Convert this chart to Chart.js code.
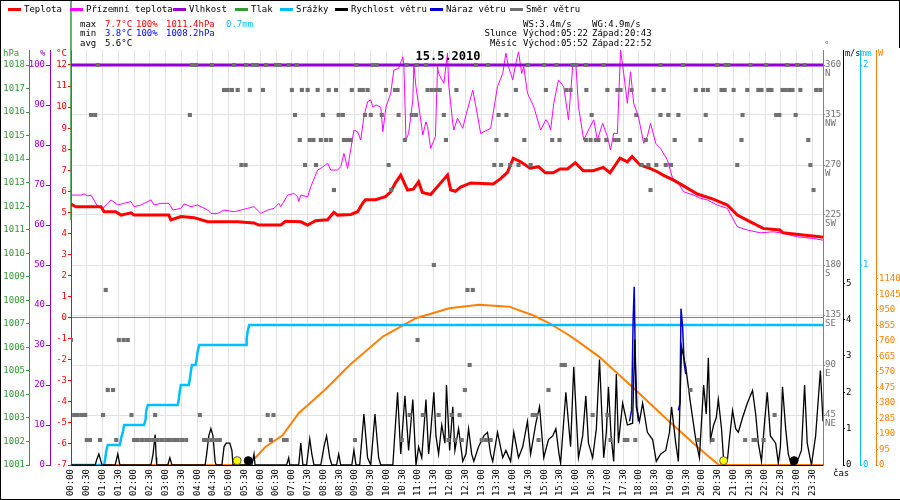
<!DOCTYPE html>
<html><head><meta charset="utf-8">
<script src="https://cdn.jsdelivr.net/npm/chart.js@4.4.1/dist/chart.umd.min.js"></script>
<style>html,body{margin:0;padding:0;background:#fff;}#wrap{width:900px;height:500px;position:relative;}</style>
</head><body><div id="wrap"><canvas id="c" width="900" height="500"></canvas></div>
<script>
const MONO = "'DejaVu Sans Mono', monospace";
const dateTitle = '15.5.2010';
const seriesNames = ['Teplota','Přízemní teplota','Vlhkost','Tlak','Srážky','Rychlost větru','Náraz větru','Směr větru'];
const seriesColors = ['#ff0000','#ff00ff','#9400d3','#339933','#00bfff','#000000','#0000cc','#707070'];

// x axis (minutes since midnight)
const xTickLabels = ['00:00','00:30','01:00','01:30','02:00','02:30','03:00','03:30','04:00','04:30','05:00','05:30','06:00','06:30','07:00','07:30','08:00','08:30','09:00','09:30','10:00','10:30','11:00','11:30','12:00','12:30','13:00','13:30','14:00','14:30','15:00','15:30','16:00','16:30','17:00','17:30','18:00','18:30','19:00','19:30','20:00','20:30','21:00','21:30','22:00','22:30','23:00','23:30'];

// Teplota (°C)
const tempTime = [0,9,57,63,85,95,114,120,186,190,209,234,260,317,348,357,399,408,437,450,465,488,500,507,532,545,555,560,579,598,608,617,627,640,651,661,668,684,703,716,722,731,741,760,803,817,830,841,855,873,889,902,917,930,944,959,974,993,1012,1025,1044,1058,1067,1082,1101,1115,1126,1145,1164,1191,1221,1248,1267,1291,1316,1348,1354,1392,1424,1430];
const tempValue = [5.4,5.27,5.27,5.03,5.03,4.87,4.98,4.87,4.87,4.64,4.8,4.75,4.56,4.56,4.5,4.4,4.4,4.58,4.55,4.4,4.6,4.65,5.0,4.87,4.9,5.03,5.45,5.6,5.6,5.75,5.98,6.4,6.77,6.06,6.1,6.45,5.95,5.85,6.4,6.77,6.06,6.0,6.2,6.4,6.35,6.6,6.9,7.57,7.4,7.1,7.17,6.88,6.88,7.06,7.06,7.36,6.98,6.98,7.14,6.88,7.57,7.4,7.65,7.25,7.09,6.93,6.77,6.54,6.27,5.87,5.63,5.35,4.87,4.56,4.24,4.16,4.03,3.92,3.84,3.82];

// Přízemní teplota (°C)
const groundTime = [0,19,25,32,38,51,61,70,76,89,101,114,120,133,152,158,171,186,194,209,215,228,241,260,266,279,291,310,323,336,348,361,374,386,395,399,412,424,431,433,437,450,456,469,475,488,494,507,513,519,526,538,545,551,557,564,570,574,580,589,593,599,608,614,623,631,633,637,642,650,652,656,665,669,675,678,684,693,697,699,709,716,718,726,728,735,745,751,764,770,779,798,811,821,827,832,840,846,851,857,861,868,880,893,903,908,912,918,927,937,946,954,960,965,975,984,994,1001,1011,1020,1026,1032,1039,1045,1051,1058,1064,1070,1079,1089,1096,1102,1112,1121,1134,1144,1153,1165,1184,1197,1210,1229,1248,1267,1286,1311,1336,1355,1381,1412,1430];
const groundValue = [5.82,5.82,5.87,5.78,5.82,5.27,5.2,5.43,5.59,5.35,5.43,5.51,5.27,5.35,5.59,5.35,5.43,5.43,5.11,5.19,5.4,5.27,5.35,5.11,4.95,4.95,5.11,5.03,5.11,5.19,5.27,4.95,5.11,5.19,5.43,5.27,5.82,5.9,5.74,5.51,5.82,5.74,6.22,7.01,7.09,7.33,7.01,7.01,7.17,7.8,7.09,8.91,8.83,8.44,9.55,10.26,10.34,10.0,10.1,10.0,8.83,10.0,10.66,11.76,11.84,12.39,12.0,8.44,8.75,10.34,12.0,10.97,9.4,8.67,9.3,9.08,8.04,8.6,11.92,11.6,11.13,12.56,11.13,9.23,8.91,9.47,8.99,9.62,10.81,10.02,8.75,8.99,10.97,11.6,12.56,11.92,11.29,12.08,12.63,11.6,11.92,10.66,10.02,8.91,9.4,9.23,8.91,10.18,11.29,10.97,9.4,11.92,12.08,10.02,8.44,8.91,9.4,8.44,9.23,8.6,7.96,8.75,8.75,12.71,11.6,10.18,11.68,10.18,9.55,8.28,8.6,9.23,8.28,8.04,7.49,6.62,6.46,5.98,5.82,5.67,5.59,5.35,5.19,4.32,4.16,4.03,4.08,4.0,3.84,3.76,3.68];

// Vlhkost (%)
const humTime = [0,1430];
const humValue = [100,100];

// Tlak (hPa)
const pressTime = [0,0];
const pressValue = [1011.4,1030];

// Srážky (mm, cumulative)
const rainTime = [0,63,65,67,70,93,95,99,101,139,142,143,146,203,205,207,209,224,226,228,230,237,239,241,244,333,334,336,339,1430];
const rainValue = [0,0,0.03,0.07,0.1,0.1,0.13,0.17,0.2,0.2,0.23,0.27,0.3,0.3,0.33,0.37,0.4,0.4,0.43,0.47,0.5,0.5,0.53,0.57,0.6,0.6,0.63,0.67,0.7,0.7];

// Rychlost větru (m/s)
const windTime = [0,46,49,53,57,59,84,89,93,152,156,160,162,163,184,188,192,255,258,262,266,270,274,276,287,291,295,302,306,308,344,348,350,410,414,416,433,437,441,448,454,458,462,475,481,486,492,496,505,509,513,534,538,542,549,557,564,570,578,585,589,612,621,627,635,642,650,656,661,667,675,680,684,690,694,699,705,711,714,720,726,730,737,745,751,756,762,766,775,785,792,798,802,811,821,827,836,842,851,859,868,874,884,891,899,908,916,922,928,931,941,950,956,965,973,979,984,992,999,1005,1013,1018,1022,1027,1032,1037,1041,1049,1058,1068,1072,1075,1081,1087,1096,1106,1113,1121,1131,1138,1142,1150,1155,1161,1169,1178,1188,1195,1203,1208,1212,1216,1222,1227,1231,1237,1241,1248,1252,1258,1264,1269,1277,1286,1296,1302,1307,1313,1319,1324,1330,1340,1345,1349,1353,1359,1364,1370,1381,1389,1395,1400,1408,1416,1421,1425,1430];
const windValue = [0,0,0.15,0.3,0.1,0,0,0.3,0,0,0.3,0.84,0.2,0,0,0.2,0,0,0.3,0.8,1.0,0.8,0.1,0,0,0.5,0.6,0.6,0.4,0,0,0.3,0,0,0.2,0,0,0.6,0,0,0.72,0.3,0,0,0.5,0.8,0.2,0,0,0.3,0,0,0.41,0,0,1.4,0.2,0,1.4,0.2,0,0,2.0,0.3,1.9,0.4,1.8,0,0.5,0.2,1.8,0.3,0.9,2.0,0.8,0.3,1.1,0.6,2.2,0.4,1.6,0.4,1.0,0.1,0.3,1.0,0.3,0.1,0.5,0.8,0.9,0.3,0.1,0.9,0.2,0.4,0.1,0.9,0.2,0.5,1.2,0.3,1.15,1.6,0.2,0.7,0.8,1.0,0.3,0.05,2.0,0.5,2.7,0.2,0.8,1.9,0.6,0.2,1.0,2.9,0.2,0.9,2.15,0.8,0.1,2.5,0.6,1.7,1.1,1.15,3.45,1.6,1.2,1.7,0.9,0.7,0.1,0.3,0.4,0.9,1.6,0.6,0.1,3.25,2.7,1.7,0.7,0.2,2.2,1.4,2.95,0.7,1.1,1.3,1.8,1.0,0.15,0.1,0.7,1.5,1.0,0.9,1.3,1.7,2.05,1.4,0.6,0.1,1.2,2.0,0.8,0.6,0.05,0.5,2.15,1.0,0.3,0,0.1,0.4,2.2,0.6,0,0.8,1.8,2.6,1.2];

// Náraz větru (m/s) – only where it rises above the speed line
const gustTime = [1062,1066,1069,1071,1073,1076,1079,1110,1155,1158,1160,1163,1166,1169];
const gustValue = [1.2,1.5,4.0,4.9,3.0,1.6,1.2,null,1.5,1.7,4.3,3.8,2.8,2.5];

// Sluneční záření (W/m2)
const solarTime = [0,338,370,402,433,465,486,530,593,656,719,776,833,877,909,941,960,1004,1067,1131,1194,1232,1430];
const solarValue = [0,0,112,180,317,409,470,613,787,899,960,981,970,919,869,807,766,664,480,286,102,0,0];

// Směr větru (°): times per direction level
const dirLevels = [360,337.5,315,292.5,270,247.5,180,157.5,112.5,90,67.5,45,22.5];
const dirTimes = [
 [51,230,238,268,310,333,346,353,371,390,397,414,429,543,574,581,638,657,675,770,793,869,900,923,954,961,979,1013,1121,1164,1229,1245,1250,1292,1322,1362,1381,1395],
 [291,298,306,317,340,365,420,439,450,469,490,504,534,549,555,564,599,616,621,678,686,694,701,733,846,903,942,950,980,1020,1039,1045,1066,1108,1127,1188,1202,1211,1237,1243,1260,1286,1307,1313,1326,1332,1353,1359,1366,1372,1387,1417,1425],
 [38,46,226,426,479,509,517,559,570,591,623,648,656,709,813,828,990,1075,1121,1136,1155,1207,1277,1341,1347,1378],
 [435,454,461,475,485,494,519,526,532,635,713,809,862,915,929,979,988,998,1003,1018,1034,1041,1063,1093,1148,1197,1275,1402],
 [324,332,445,466,604,805,818,835,851,874,1085,1098,1113,1131,1141,1267,1406],
 [500,609,1102,1412],
 [690],
 [66,754,764],
 [0,91,100,108,659],
 [758,933,939],
 [70,80,749,908,1178],
 [6,13,21,27,61,115,160,245,374,385,644,669,699,724,739,878,884,992,1020,1338],
 [30,36,55,86,120,127,135,143,150,158,165,173,181,188,196,203,211,219,253,260,268,276,283,359,380,405,410,540,629,718,730,743,781,789,798,889,1026,1053,1058,1073,1192,1220,1282,1298,1303,1317]
];

// Slunce / Měsíc
const sunTime = [316,1241];
const moonTime = [337,1375];

// axis ticks
const tempTicks = [-7,-6,-5,-4,-3,-2,-1,0,1,2,3,4,5,6,7,8,9,10,11,12];
const humTicks = [0,10,20,30,40,50,60,70,80,90,100];
const pressTicks = [1001,1002,1003,1004,1005,1006,1007,1008,1009,1010,1011,1012,1013,1014,1015,1016,1017,1018];
const dirTicks = [45,90,135,180,225,270,315,360];
const dirNames = ['NE','E','SE','S','SW','W','NW','N'];
const windTicks = [0,1,2,3,4,5];
const rainTicks = [0,1,2];
const solarTicks = [0,95,190,285,380,475,570,665,760,855,950,1045,1140];

// header texts
const statRows = [
  [['max','#000'],['7.7°C','#ff0000'],['100%','#ff0000'],['1011.4hPa','#ff0000'],['0.7mm','#00bfff']],
  [['min','#000'],['3.8°C','#0000ff'],['100%','#0000ff'],['1008.2hPa','#0000ff']],
  [['avg','#000'],['5.6°C','#000']]
];
const astroRows = [
  ['', 'WS:3.4m/s', 'WG:4.9m/s'],
  ['Slunce', 'Východ:05:22', 'Západ:20:43'],
  ['Měsíc', 'Východ:05:52', 'Západ:22:52']
];

const pts = (t, v) => t.map((x, i) => ({x: x, y: v[i]}));
const xTickMinutes = xTickLabels.map(s => parseInt(s.slice(0,2),10)*60 + parseInt(s.slice(3),10));
const dirPoints = [];
dirLevels.forEach((lv, k) => dirTimes[k].forEach(t => dirPoints.push({x: t, y: lv})));

const setTicks = vals => scale => { scale.ticks = vals.map(v => ({value: v})); };
const setWidth = w => scale => { scale.width = w; };
const tickFont = {family: MONO, size: 9};

function yAxis(pos, weight, min, max, ticks, width, color, tickLen, extra) {
  const a = {
    type: 'linear', position: pos, weight: weight, min: min, max: max,
    afterBuildTicks: setTicks(ticks), afterFit: setWidth(width),
    ticks: {autoSkip: false, color: color, font: tickFont, padding: 1, callback: v => String(v)},
    grid: {drawOnChartArea: false, drawTicks: true, tickLength: tickLen, tickColor: color},
    border: {display: true, color: color, width: 1}
  };
  return Object.assign(a, extra || {});
}

const overlay = {
  id: 'overlay',
  afterDraw(chart) {
    const c = chart.ctx;
    c.save();
    // frame
    c.strokeStyle = '#000'; c.lineWidth = 1;
    c.beginPath();
    c.moveTo(0.5, 0); c.lineTo(0.5, 500);
    c.moveTo(0, 0.5); c.lineTo(900, 0.5);
    c.moveTo(0, 499.5); c.lineTo(900, 499.5);
    c.moveTo(899.5, 0); c.lineTo(899.5, 48);
    c.stroke();
    // legend
    const legendX = [8, 70, 173, 235, 280, 335, 430, 510];
    c.font = '9px ' + MONO; c.textBaseline = 'middle'; c.textAlign = 'left';
    seriesNames.forEach((n, i) => {
      c.fillStyle = seriesColors[i]; c.fillRect(legendX[i], 8, 13, 3);
      c.fillStyle = '#000'; c.fillText(n, legendX[i] + 16, 9.5);
    });
    // stats
    const sx = [80, 105, 136, 166, 226];
    const sy = [24.5, 34, 43.5];
    statRows.forEach((row, r) => row.forEach((cell, k) => {
      c.fillStyle = cell[1]; c.fillText(cell[0], sx[k], sy[r]);
    }));
    c.fillStyle = '#000';
    astroRows.forEach((row, r) => {
      c.textAlign = 'right'; c.fillText(row[0], 517, sy[r]);
      c.textAlign = 'left'; c.fillText(row[1], 523, sy[r]); c.fillText(row[2], 592, sy[r]);
    });
    // title
    c.font = 'bold 12px ' + MONO; c.textAlign = 'center'; c.fillStyle = '#000';
    c.fillText(dateTitle, 448, 57);
    // axis titles
    c.font = '9px ' + MONO; c.textAlign = 'left';
    const s = chart.scales;
    c.fillStyle = '#339933'; c.fillText('hPa', 3, 54);
    c.fillStyle = '#9400d3'; c.fillText('%', 40, 54);
    c.fillStyle = '#ff0000'; c.fillText('°C', 56, 54);
    c.fillStyle = '#808080'; c.fillText('°', s.deg.left + 1, 46);
    c.font = '8.5px ' + MONO;
    c.fillStyle = '#000'; c.fillText('m/s', s.wind.left + 2, 54);
    c.fillStyle = '#00bfff'; c.fillText('mm', s.rain.left + 1, 54);
    c.fillStyle = '#ff8000'; c.fillText('W', s.solar.left + 2, 54);
    c.fillStyle = '#000'; c.font = '9px ' + MONO; c.fillText('čas', 833, 474);
    c.restore();
  }
};

new Chart(document.getElementById('c'), {
  type: 'line',
  data: {
    datasets: [
      {label: 'Východ/Západ Slunce', type: 'scatter', data: sunTime.map(t => ({x: t, y: 0.12})), yAxisID: 'wind',
       pointStyle: 'circle', pointRadius: 4, pointBackgroundColor: '#ffff00', pointBorderColor: '#555', pointBorderWidth: 1},
      {label: 'Východ/Západ Měsíce', type: 'scatter', data: moonTime.map(t => ({x: t, y: 0.12})), yAxisID: 'wind',
       pointStyle: 'circle', pointRadius: 4, pointBackgroundColor: '#000', pointBorderColor: '#000', pointBorderWidth: 1},
      {label: seriesNames[7], type: 'scatter', data: dirPoints, yAxisID: 'deg',
       pointStyle: 'rect', pointRadius: 2.9, pointBackgroundColor: seriesColors[7], pointBorderWidth: 0},
      {label: seriesNames[2], data: pts(humTime, humValue), yAxisID: 'hum', borderColor: seriesColors[2], borderWidth: 3, pointRadius: 0},
      {label: seriesNames[0], data: pts(tempTime, tempValue), yAxisID: 'temp', borderColor: seriesColors[0], borderWidth: 3, pointRadius: 0},
      {label: seriesNames[1], data: pts(groundTime, groundValue), yAxisID: 'temp', borderColor: seriesColors[1], borderWidth: 1, pointRadius: 0},
      {label: seriesNames[5], data: pts(windTime, windValue), yAxisID: 'wind', borderColor: seriesColors[5], borderWidth: 1.3, pointRadius: 0},
      {label: seriesNames[6], data: pts(gustTime, gustValue), yAxisID: 'wind', borderColor: seriesColors[6], borderWidth: 1.5, pointRadius: 0, spanGaps: false},
      {label: seriesNames[4], data: pts(rainTime, rainValue), yAxisID: 'rain', borderColor: seriesColors[4], borderWidth: 2.5, pointRadius: 0},
      {label: 'Sluneční záření', data: pts(solarTime, solarValue), yAxisID: 'solar', borderColor: '#ff8000', borderWidth: 2, pointRadius: 0},
      {label: seriesNames[3], data: pts(pressTime, pressValue), yAxisID: 'hpa', borderColor: seriesColors[3], borderWidth: 1.5, pointRadius: 0, clip: false}
    ]
  },
  options: {
    responsive: false, animation: false, devicePixelRatio: 1,
    layout: {padding: {top: 50, left: 0, right: 0, bottom: 0}},
    plugins: {legend: {display: false}, tooltip: {enabled: false}, title: {display: false}},
    elements: {line: {tension: 0}},
    scales: {
      x: {
        type: 'linear', position: 'bottom', min: 0, max: 1430,
        afterBuildTicks: setTicks(xTickMinutes), afterFit: s => { s.height = 35; },
        ticks: {autoSkip: false, minRotation: 90, maxRotation: 90, color: '#000', font: tickFont, padding: 4,
                callback: (v, i) => xTickLabels[i]},
        grid: {color: '#e2e2e2', drawTicks: false},
        border: {display: true, color: '#000', width: 1}
      },
      temp: yAxis('left', 0, -7, 12.7125, tempTicks, 21, '#ff0000', 3, {
        grid: {drawOnChartArea: true, drawTicks: true, tickLength: 3, tickColor: '#ff0000',
               color: ctx => (ctx.tick && ctx.tick.value === 0) ? '#808080' : 'rgba(0,0,0,0)'}
      }),
      hum: yAxis('left', 1, 0, 103.75, humTicks, 21, '#9400d3', 4),
      hpa: yAxis('left', 2, 1001, 1018.6375, pressTicks, 29, '#339933', 3),
      deg: yAxis('right', 0, 0, 373.5, dirTicks, 20, '#808080', 2, {
        ticks: {autoSkip: false, color: '#707070', font: {family: MONO, size: 9, lineHeight: 0.95}, padding: 0, labelOffset: 4,
                callback: (v, i) => [String(v), dirNames[i]]},
        grid: {drawOnChartArea: true, color: '#e2e2e2', drawTicks: true, tickLength: 2, tickColor: '#808080'}
      }),
      wind: yAxis('right', 1, 0, 11.4125, windTicks, 17, '#000000', 2),
      rain: yAxis('right', 2, 0, 2.075, rainTicks, 16, '#00bfff', 2),
      solar: yAxis('right', 3, 0, 2542, solarTicks, 24, '#ff8000', 2)
    }
  },
  plugins: [overlay]
});
</script>
</body></html>
